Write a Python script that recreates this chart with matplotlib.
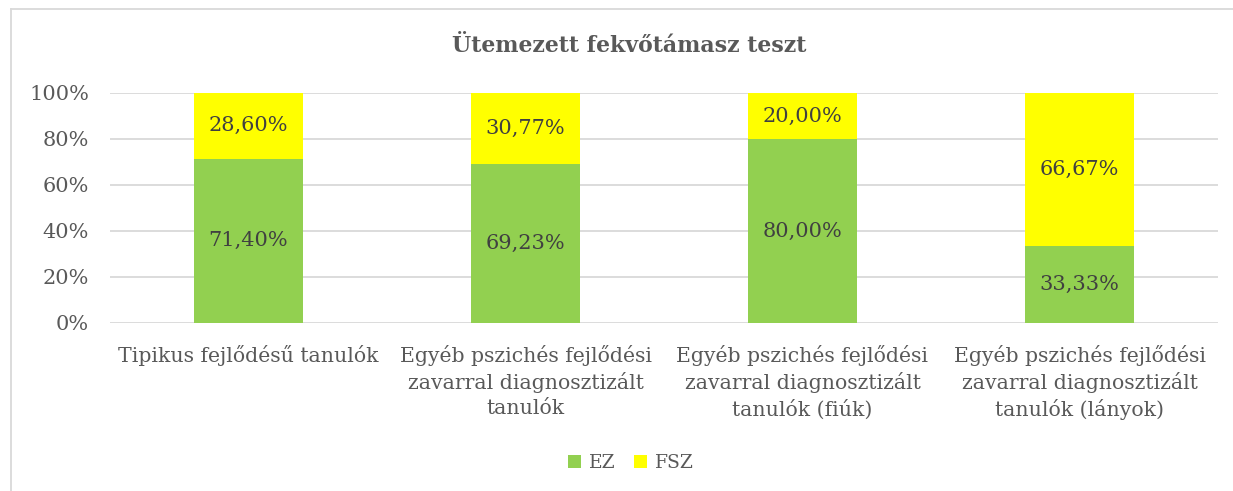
import matplotlib
matplotlib.use("Agg")
import matplotlib.pyplot as plt
from matplotlib.lines import Line2D
import numpy as np

categories = [
    "Tipikus fejlődésű tanulók",
    "Egyéb pszichés fejlődési\nzavarral diagnosztizált\ntanulók",
    "Egyéb pszichés fejlődési\nzavarral diagnosztizált\ntanulók (fiúk)",
    "Egyéb pszichés fejlődési\nzavarral diagnosztizált\ntanulók (lányok)",
]
ez = [71.40, 69.23, 80.00, 33.33]
fsz = [28.60, 30.77, 20.00, 66.67]
yticks = [0, 20, 40, 60, 80, 100]

plt.rcParams['font.family'] = ['DejaVu Serif']

fig = plt.figure(figsize=(12.33, 4.91), dpi=100)
W, H = 1233, 491
ax = fig.add_axes([110 / W, 1 - 323 / H, (1218 - 110) / W, (323 - 93) / H])

x = np.arange(len(categories))
bw = 0.397
green = "#92D050"
yellow = "#FFFF00"
ax.bar(x, ez, bw, color=green, zorder=3, label="EZ")
ax.bar(x, fsz, bw, bottom=ez, color=yellow, zorder=3, label="FSZ")

def fmt(v):
    return f"{v:.2f}%".replace(".", ",")

for i in range(len(categories)):
    ax.text(x[i], ez[i] / 2, fmt(ez[i]), ha="center", va="center",
            fontsize=15, color="#404040", zorder=4)
    ax.text(x[i], ez[i] + fsz[i] / 2, fmt(fsz[i]), ha="center", va="center",
            fontsize=15, color="#404040", zorder=4)

ax.set_xlim(-0.5, len(categories) - 0.5)
ax.set_ylim(0, 100)
ax.set_yticks(yticks)
ax.set_yticklabels([f"{t}%" for t in yticks], fontsize=15, color="#595959")
ax.set_xticks(x)
ax.set_xticklabels(categories, fontsize=14.7, color="#595959", linespacing=1.36, va="top")
ax.tick_params(axis="both", length=0)
ax.tick_params(axis="y", pad=15)
ax.tick_params(axis="x", pad=16)
ax.grid(axis="y", color="#D9D9D9", linewidth=1.3, zorder=0)
for s in ax.spines.values():
    s.set_visible(False)

fig.text(629 / W, 1 - 46 / H, "Ütemezett fekvőtámasz teszt", ha="center", va="center",
         fontsize=15.8, fontweight="bold", color="#595959")

leg = fig.legend(loc="center", bbox_to_anchor=(631 / W, 1 - 463 / H), ncol=2, frameon=False,
                 fontsize=13.5, handlelength=0.7, handleheight=0.7, handletextpad=0.4,
                 columnspacing=1.0, labelcolor="#595959")

# chart area border (cropped at right/bottom)
fig.add_artist(Line2D([11 / W, 11 / W], [0, 1 - 9 / H], transform=fig.transFigure,
                      color="#D9D9D9", linewidth=1.3))
fig.add_artist(Line2D([11 / W, 1], [1 - 9 / H, 1 - 9 / H], transform=fig.transFigure,
                      color="#D9D9D9", linewidth=1.3))

fig.savefig("out.png", dpi=100, facecolor="white")
